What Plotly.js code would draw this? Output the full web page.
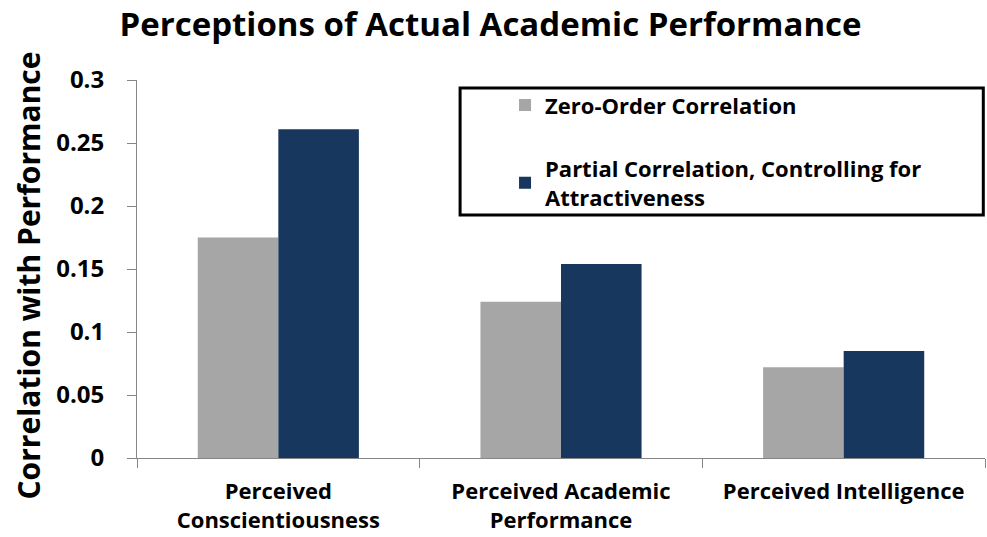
<!DOCTYPE html>
<html>
<head>
<meta charset="utf-8">
<script src="https://cdn.plot.ly/plotly-3.0.1.min.js"></script>
<style>html,body{margin:0;padding:0;background:#fff;}#chart{width:987px;height:537px;}</style>
</head>
<body>
<div id="chart"></div>
<script>
const categories = ["Perceived<br>Conscientiousness", "Perceived Academic<br>Performance", "Perceived Intelligence"];
const zeroOrder = [0.175, 0.124, 0.072];
const partial = [0.261, 0.154, 0.085];
const seriesNames = ["Zero-Order Correlation", "Partial Correlation, Controlling for<br>Attractiveness"];
const yTicks = [0, 0.05, 0.1, 0.15, 0.2, 0.25, 0.3];
const yTickText = ["0", "0.05", "0.1", "0.15", "0.2", "0.25", "0.3"];

const FONT = "Open Sans, Liberation Sans, sans-serif";

const traces = [
  {type: "bar", x: categories, y: zeroOrder, name: seriesNames[0], legendgroup: "a",
   marker: {color: "#A6A6A6"}},
  {type: "bar", x: categories, y: partial, name: seriesNames[1], legendgroup: "b",
   marker: {color: "#17375E"}}
];

const layout = {
  width: 987, height: 537,
  margin: {l: 137, r: 2, t: 80, b: 79},
  paper_bgcolor: "#fff", plot_bgcolor: "#fff",
  font: {family: FONT, color: "#000"},
  title: {text: "<b>Perceptions of Actual Academic Performance</b>",
          font: {size: 33, family: FONT, color: "#000"},
          x: 0.497, xanchor: "center", y: 0.954, yanchor: "middle"},
  barmode: "group", bargap: 0.43, bargroupgap: 0,
  xaxis: {
    type: "category", showline: true, linecolor: "#868686", linewidth: 1,
    ticks: "outside", tickson: "boundaries", ticklen: 9, tickcolor: "#868686",
    ticklabelstandoff: 14,
    tickfont: {size: 22, family: FONT, color: "#000", weight: "bold"},
    showgrid: false, zeroline: false, automargin: false
  },
  yaxis: {
    range: [0, 0.3], tickvals: yTicks, ticktext: yTickText,
    showline: true, linecolor: "#868686", linewidth: 1,
    ticks: "outside", ticklen: 9, tickcolor: "#868686",
    ticklabelstandoff: 18,
    tickfont: {size: 24, family: FONT, color: "#000", weight: "bold"},
    showgrid: false, zeroline: false, automargin: false
  },
  showlegend: true,
  legend: {
    x: 0.434, xanchor: "left", y: 0.989, yanchor: "top",
    bgcolor: "rgba(0,0,0,0)", borderwidth: 0,
    font: {size: 22, family: FONT, color: "#000", weight: "bold"},
    traceorder: "grouped", tracegroupgap: 32
  },
  shapes: [{
    type: "rect", xref: "paper", yref: "paper",
    x0: 0.381, x1: 0.998, y0: 0.643, y1: 0.979,
    line: {color: "#000", width: 3}, fillcolor: "rgba(0,0,0,0)"
  }],
  annotations: [{
    text: "<b>Correlation with Performance</b>", xref: "paper", yref: "paper",
    x: -0.128, y: 0.484, xanchor: "center", yanchor: "middle", textangle: -90,
    showarrow: false, font: {size: 30, family: FONT, color: "#000"}
  }]
};

Plotly.newPlot("chart", traces, layout, {displayModeBar: false, staticPlot: true});
</script>
</body>
</html>
